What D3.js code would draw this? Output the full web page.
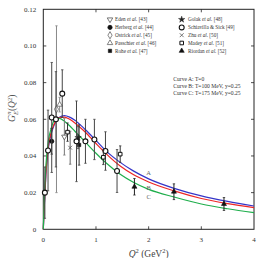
<!DOCTYPE html>
<html>
<head>
<meta charset="utf-8">
<script src="https://cdn.jsdelivr.net/npm/d3@7"></script>
<style>
  html, body { margin: 0; padding: 0; background: #fff; }
  svg { display: block; font-family: "Liberation Serif", "DejaVu Serif", serif; }
</style>
</head>
<body>
<div id="chart"></div>
<script>
// model curves
const curveQ2 = [0, 0.02, 0.05, 0.1, 0.15, 0.2, 0.3, 0.4, 0.5, 0.6, 0.79, 1.0, 1.2, 1.46, 1.7, 2.0, 2.5, 3.0, 3.5, 4.0];
const curveA = [0, 0.013, 0.030, 0.045, 0.052, 0.0565, 0.061, 0.062, 0.0612, 0.0595, 0.0546, 0.0485, 0.0425, 0.0365, 0.032, 0.0275, 0.0222, 0.0182, 0.0152, 0.0127];
const curveB = [0, 0.014, 0.031, 0.046, 0.053, 0.057, 0.0608, 0.0612, 0.0600, 0.058, 0.0532, 0.0468, 0.041, 0.0345, 0.030, 0.0258, 0.0208, 0.0168, 0.0140, 0.0118];
const curveC = [0, 0.017, 0.035, 0.049, 0.055, 0.059, 0.0605, 0.059, 0.0565, 0.0535, 0.0478, 0.0415, 0.036, 0.030, 0.0258, 0.0218, 0.0175, 0.0138, 0.0112, 0.0091];

// measurements: [Q2, G, error]
const eden = [[0.40, 0.0505, 0.010]];
const herberg = [[0.16, 0.048, 0.007]];
const ostrick = [[0.25, 0.0655, 0.0455]];
const passchier = [[0.31, 0.068, 0.004]];
const rohe = [[0.68, 0.046, 0.011]];
const golak = [[0.66, 0.050, 0.006]];
const schiavilla = [[0.03, 0.020, 0.014], [0.09, 0.043, 0.022], [0.16, 0.061, 0.030], [0.24, 0.060, 0.026],
  [0.36, 0.074, 0.013], [0.63, 0.048, 0.022], [0.80, 0.048, 0.012], [0.97, 0.049, 0.011],
  [1.18, 0.0427, 0.0105], [1.40, 0.0318, 0.0117]];
const zhu = [[0.51, 0.0445, 0.009]];
const madey = [[0.46, 0.053, 0.005], [1.14, 0.0393, 0.004], [1.46, 0.041, 0.0045]];
const riordan = [[1.73, 0.0232, 0.0045], [2.48, 0.0205, 0.0043], [3.43, 0.0138, 0.0035]];

const xTicks = [0, 1, 2, 3, 4];
const yTicks = [0, 0.02, 0.04, 0.06, 0.08, 0.10, 0.12];
const curveNotes = ['Curve A: T=0', 'Curve B: T=100 MeV, y=0.25', 'Curve C: T=175 MeV, y=0.25'];

const W = 257, H = 258;
const m = { left: 43.3, right: 3, top: 9.3, bottom: 28.7 };

const svg = d3.select('#chart').append('svg').attr('width', W).attr('height', H);

const x = d3.scaleLinear().domain([0, 4]).range([m.left, W - m.right]);
const y = d3.scaleLinear().domain([0, 0.12]).range([H - m.bottom, m.top]);

// X marker as a custom symbol
const symbolX = {
  draw(ctx, size) {
    const r = Math.sqrt(size) / 2;
    ctx.moveTo(-r, -r); ctx.lineTo(r, r);
    ctx.moveTo(r, -r); ctx.lineTo(-r, r);
  }
};

const series = [
  { name: 'Eden', label: 'Eden et al. [43]', data: eden, type: d3.symbolTriangle, rot: 180, fill: '#fff', stroke: '#555', size: 13, sw: 0.8, bar: '#777' },
  { name: 'Herberg', label: 'Herberg et al. [44]', data: herberg, type: d3.symbolCircle, fill: '#111', stroke: '#111', size: 14, sw: 0.8, bar: '#222' },
  { name: 'Ostrick', label: 'Ostrick et al. [45]', data: ostrick, type: d3.symbolDiamond, fill: '#fff', stroke: '#666', size: 15, sw: 0.8, bar: '#888' },
  { name: 'Passchier', label: 'Passchier et al. [46]', data: passchier, type: d3.symbolTriangle, fill: '#fff', stroke: '#666', size: 13, sw: 0.8, bar: '#888' },
  { name: 'Rohe', label: 'Rohe et al. [47]', data: rohe, type: d3.symbolSquare, fill: '#111', stroke: '#111', size: 11, sw: 0.6, bar: '#333' },
  { name: 'Golak', label: 'Golak et al. [48]', data: golak, type: d3.symbolStar, fill: '#222', stroke: '#222', size: 13, sw: 0.4, bar: '#444' },
  { name: 'Schiavilla', label: 'Schiavilla & Sick [49]', data: schiavilla, type: d3.symbolCircle, fill: '#fff', stroke: '#111', size: 19, sw: 1.1, bar: '#444' },
  { name: 'Zhu', label: 'Zhu et al. [50]', data: zhu, type: symbolX, fill: 'none', stroke: '#555', size: 15, sw: 0.8, bar: '#666' },
  { name: 'Madey', label: 'Madey et al. [51]', data: madey, type: d3.symbolSquare, fill: '#fff', stroke: '#111', size: 13, sw: 1, bar: '#333' },
  { name: 'Riordan', label: 'Riordan et al. [52]', data: riordan, type: d3.symbolTriangle, fill: '#111', stroke: '#111', size: 11, sw: 0.6, bar: '#222' }
];

// frame
svg.append('rect')
  .attr('x', x(0)).attr('y', y(0.12))
  .attr('width', x(4) - x(0)).attr('height', y(0) - y(0.12))
  .attr('fill', 'none').attr('stroke', '#222').attr('stroke-width', 1);

// inward ticks on all four sides
const tickLen = 3;
const tk = svg.append('g').attr('stroke', '#222').attr('stroke-width', 0.8);
xTicks.slice(1, -1).forEach((t) => {
  tk.append('line').attr('x1', x(t)).attr('x2', x(t)).attr('y1', y(0)).attr('y2', y(0) - tickLen);
  tk.append('line').attr('x1', x(t)).attr('x2', x(t)).attr('y1', y(0.12)).attr('y2', y(0.12) + tickLen);
});
yTicks.slice(1, -1).forEach((t) => {
  tk.append('line').attr('x1', x(0)).attr('x2', x(0) + tickLen).attr('y1', y(t)).attr('y2', y(t));
  tk.append('line').attr('x1', x(4)).attr('x2', x(4) - tickLen).attr('y1', y(t)).attr('y2', y(t));
});

// tick labels
svg.append('g').selectAll('text').data(xTicks).join('text')
  .attr('x', (d) => x(d)).attr('y', y(0) + 12.5)
  .attr('text-anchor', 'middle').attr('font-size', 7).attr('fill', '#333')
  .text((d) => d);
svg.append('g').selectAll('text').data(yTicks).join('text')
  .attr('x', x(0) - 7).attr('y', (d) => y(d) + 2.4)
  .attr('text-anchor', 'end').attr('font-size', 7).attr('fill', '#333')
  .text((d) => (d === 0 ? '0' : d.toFixed(2)));

// axis titles
const yt = svg.append('text')
  .attr('transform', `translate(15,${y(0.066)}) rotate(-90)`)
  .attr('text-anchor', 'middle').attr('font-size', 9.5).attr('fill', '#555')
  .attr('font-style', 'italic');
yt.append('tspan').text('G');
yt.append('tspan').attr('font-size', 6.5).attr('dy', -4).attr('dx', 0.3).text('n');
yt.append('tspan').attr('font-size', 6.5).attr('dy', 7).attr('dx', -3.5).text('E');
yt.append('tspan').attr('dy', -3).attr('font-style', 'normal').text('(');
yt.append('tspan').text('Q');
yt.append('tspan').attr('font-size', 6.5).attr('dy', -3.5).attr('font-style', 'normal').text('2');
yt.append('tspan').attr('dy', 3.5).attr('font-style', 'normal').text(')');

const xt = svg.append('text')
  .attr('x', x(2)).attr('y', H - 1)
  .attr('text-anchor', 'middle').attr('font-size', 9.5).attr('fill', '#444');
xt.append('tspan').attr('font-style', 'italic').text('Q');
xt.append('tspan').attr('font-size', 6.5).attr('dy', -4).text('2');
xt.append('tspan').attr('dy', 4).text(' (GeV');
xt.append('tspan').attr('font-size', 6.5).attr('dy', -4).text('2');
xt.append('tspan').attr('dy', 4).text(')');

// model curves
const line = d3.line().x((d) => x(d[0])).y((d) => y(d[1])).curve(d3.curveMonotoneX);
const curves = [
  { key: 'A', vals: curveA, color: '#3535c8', lab: 0.0307 },
  { key: 'B', vals: curveB, color: '#ee2626', lab: 0.0228 },
  { key: 'C', vals: curveC, color: '#1fae4c', lab: 0.0175 }
];
svg.append('g').selectAll('path').data(curves).join('path')
  .attr('d', (c) => line(curveQ2.map((q, i) => [q, c.vals[i]])))
  .attr('fill', 'none').attr('stroke', (c) => c.color).attr('stroke-width', 1.2);
svg.append('g').selectAll('text').data(curves).join('text')
  .attr('x', x(2.0)).attr('y', (c) => y(c.lab) + 2.2)
  .attr('text-anchor', 'middle').attr('font-size', 6.5).attr('fill', '#666')
  .text((c) => c.key);

// error bars + markers
const sym = (s) => d3.symbol().type(s.type).size(s.size)();
series.forEach((s) => {
  const g = svg.append('g').attr('class', s.name);
  g.selectAll('line.bar').data(s.data).join('line').attr('class', 'bar')
    .attr('x1', (d) => x(d[0])).attr('x2', (d) => x(d[0]))
    .attr('y1', (d) => y(d[1] + d[2])).attr('y2', (d) => y(d[1] - d[2]))
    .attr('stroke', s.bar).attr('stroke-width', 1);
  g.selectAll('line.cap').data(s.data.flatMap((d) => [d[1] + d[2], d[1] - d[2]].map((v) => [d[0], v]))).join('line').attr('class', 'cap')
    .attr('x1', (d) => x(d[0]) - 1.2).attr('x2', (d) => x(d[0]) + 1.2)
    .attr('y1', (d) => y(d[1])).attr('y2', (d) => y(d[1]))
    .attr('stroke', s.bar).attr('stroke-width', 0.8);
  g.selectAll('path').data(s.data).join('path')
    .attr('d', sym(s))
    .attr('transform', (d) => `translate(${x(d[0])},${y(d[1])}) rotate(${s.rot || 0})`)
    .attr('fill', s.fill).attr('stroke', s.stroke).attr('stroke-width', s.sw);
});

// legend, two columns of five
const legCols = [{ sx: 110, tx: 115 }, { sx: 181.7, tx: 188 }];
const legRows = [19.5, 27.4, 35.2, 43, 50.9];
series.forEach((s, i) => {
  const col = legCols[Math.floor(i / 5)];
  const ry = legRows[i % 5];
  svg.append('path')
    .attr('d', sym(s))
    .attr('transform', `translate(${col.sx},${ry}) rotate(${s.rot || 0})`)
    .attr('fill', s.fill).attr('stroke', s.stroke).attr('stroke-width', s.sw);
  const parts = s.label.split(' et al. ');
  const t = svg.append('text').attr('x', col.tx).attr('y', ry + 1.7)
    .attr('font-size', 5.2).attr('fill', '#333');
  if (parts.length === 2) {
    t.append('tspan').text(parts[0] + ' ');
    t.append('tspan').attr('font-style', 'italic').text('et al.');
    t.append('tspan').text(' ' + parts[1]);
  } else {
    t.text(s.label);
  }
});

svg.append('g').selectAll('text').data(curveNotes).join('text')
  .attr('x', 173.3).attr('y', (d, i) => 80.5 + i * 7.4)
  .attr('font-size', 5.6).attr('fill', '#333')
  .text((d) => d);
</script>
</body>
</html>
